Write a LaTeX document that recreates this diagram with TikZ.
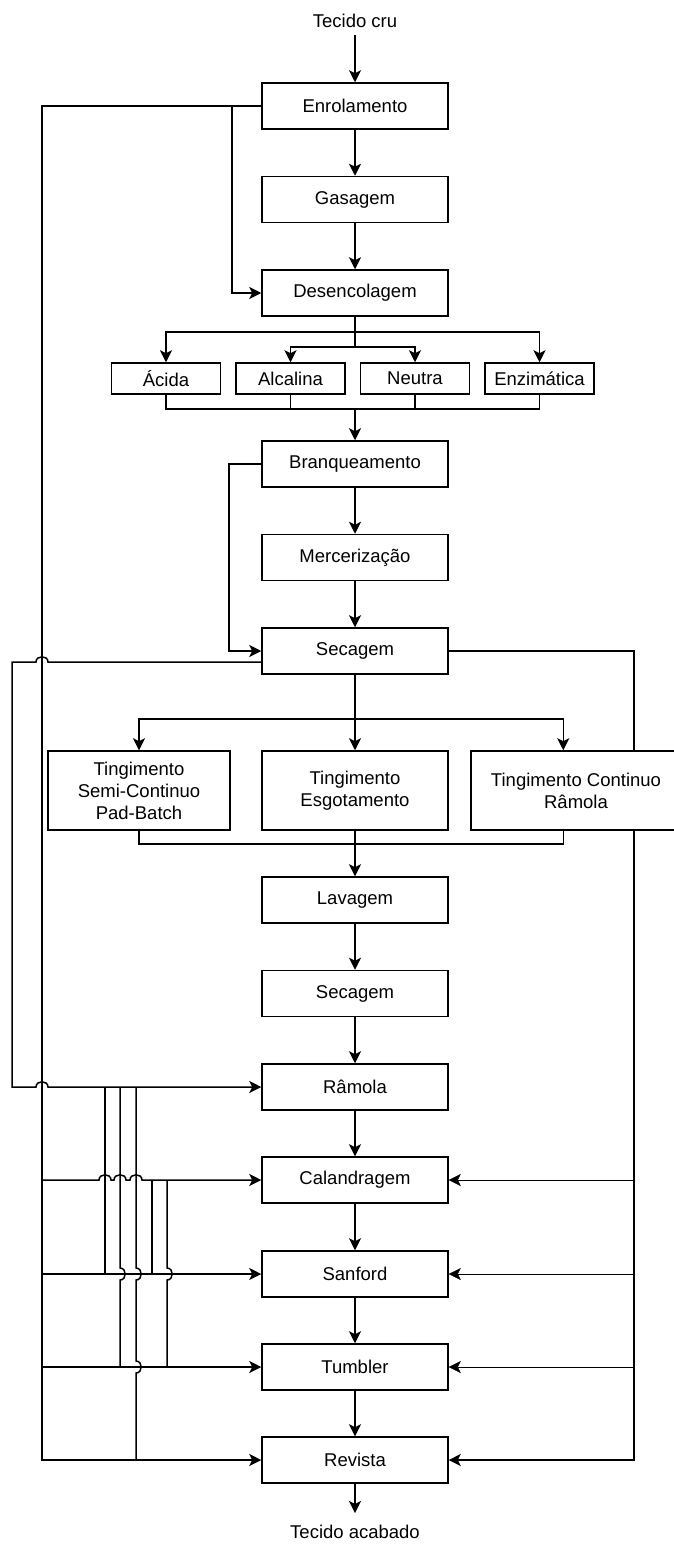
\documentclass[tikz,border=0pt]{standalone}
\usepackage{fontspec}
\setmainfont{Liberation Sans}
\usetikzlibrary{arrows.meta,calc}
\pgfdeclarelayer{bg}
\pgfsetlayers{bg,main}
\begin{document}
\begin{tikzpicture}[x=1pt,y=-1pt,
  line width=1.5pt,
  every node/.style={font=\fontsize{18.5}{22}\selectfont},
  box/.style={draw, fill=white, minimum width=186pt, minimum height=46pt, inner sep=0pt, line width=1.5pt},
  sbox/.style={box, minimum width=109pt, minimum height=31pt},
  tbox/.style={box, minimum height=79pt, align=center},
  lbl/.style={inner sep=0pt},
  arr/.style={-{Stealth[length=12pt,width=12pt,inset=3pt]}},
  hopr/.style 2 args={insert path={-- ({#1-6},#2) .. controls ({#1-6},{#2-7}) and ({#1+6},{#2-7}) .. ({#1+6},#2)}},
  hopl/.style 2 args={insert path={-- ({#1+6},#2) .. controls ({#1+6},{#2-7}) and ({#1-6},{#2-7}) .. ({#1-6},#2)}},
  hopd/.style 2 args={insert path={-- (#1,{#2-6}) .. controls ({#1+7},{#2-6}) and ({#1+7},{#2+6}) .. (#1,{#2+6})}},
]
\useasboundingbox (0,0) rectangle (673,1544);

% nodes
\node[lbl] (cru) at (355,21) {Tecido cru};
\node[box] (enr) at (355,106) {Enrolamento};
\node[box] (gas) at (355,199.5) {Gasagem};
\node[box] (des) at (355,293) {Desencolagem};
\node[sbox] (aci) at (166,378.5) {Ácida};
\node[sbox] (alc) at (290.5,378.5) {Alcalina};
\node[sbox] (neu) at (415,378.5) {Neutra};
\node[sbox] (enz) at (539.5,378.5) {Enzimática};
\node[box] (bra) at (355,464) {Branqueamento};
\node[box] (mer) at (355,557.5) {Mercerização};
\node[box] (sec1) at (355,651) {Secagem};
\node[tbox, minimum width=182pt] (t1) at (139,790.5) {Tingimento\\Semi-Continuo\\Pad-Batch};
\node[tbox] (t2) at (355,790.5) {Tingimento\\Esgotamento};
\node[tbox, minimum width=210pt] (t3) at (576,790.5) {Tingimento Continuo\\Râmola};
\node[box] (lav) at (355,900) {Lavagem};
\node[box] (sec2) at (355,993.5) {Secagem};
\node[box] (ram) at (355,1087) {Râmola};
\node[box] (cal) at (355,1180) {Calandragem};
\node[box] (san) at (355,1274) {Sanford};
\node[box] (tum) at (355,1367) {Tumbler};
\node[box] (rev) at (355,1460) {Revista};
\node[lbl] (aca) at (355,1532) {Tecido acabado};

% main flow
\draw[arr, shorten <=6pt] (cru.south) -- (enr.north);
\draw[arr] (enr) -- (gas);
\draw[arr] (gas) -- (des);
\coordinate (o1) at (355,332);
\coordinate (i1) at (355,347);
\draw (des.south) -- (i1);
\draw[arr] (o1) -| (aci.north);
\draw[arr] (o1) -| (enz.north);
\draw[arr] (i1) -| (alc.north);
\draw[arr] (i1) -| (neu.north);
\coordinate (m1) at (355,409);
\draw (aci.south) |- (m1);
\draw (enz.south) |- (m1);
\draw (alc.south) |- (m1);
\draw (neu.south) |- (m1);
\draw[arr] (m1) -- (bra.north);
\draw[arr] (bra) -- (mer);
\draw[arr] (mer) -- (sec1);
\draw[arr] (bra.west) -- (229,464) |- (sec1.west);

\coordinate (b2) at (355,719);
\draw (sec1.south) -- (b2);
\draw[arr] (b2) -| (t1.north);
\draw[arr] (b2) -- (t2.north);
\coordinate (t3in) at ($(t3.north west)+(93,0)$);
\coordinate (t3out) at ($(t3.south west)+(93,0)$);
\draw[arr] (b2) -| (t3in);
\coordinate (m2) at (355,844);
\draw (t1.south) |- (m2);
\draw (t3out) |- (m2);
\draw[arr] (t2.south) -- (lav.north);
\draw[arr] (lav) -- (sec2);
\draw[arr] (sec2) -- (ram);
\draw[arr] (ram) -- (cal);
\draw[arr] (cal) -- (san);
\draw[arr] (san) -- (tum);
\draw[arr] (tum) -- (rev);
\coordinate (acaIn) at (355,1513);
\draw[arr] (rev.south) -- (acaIn);

% left bus from Enrolamento
\draw[arr] (enr.west) -| (42,1460) -- (rev.west);
\draw[arr] (232,106) |- (des.west);
\draw[arr] (42,1274) -- (san.west);
\draw[arr] (42,1367) -- (tum.west);
\draw[arr] (42,1180) [hopr={105}{1180}] [hopr={120}{1180}] [hopr={136}{1180}] -- (cal.west);

% loop from Secagem
\coordinate (s1o) at ($(sec1.west)+(0,11)$);
\draw[arr] (s1o) [hopl={42}{662}] -- (12,662) -- (12,1087) [hopr={42}{1087}] -- (ram.west);
\draw (105,1087) -- (105,1274);
\draw (120,1087) [hopd={120}{1274}] -- (120,1367);
\draw (136,1087) [hopd={136}{1274}] [hopd={136}{1367}] -- (136,1460);
\draw (152,1180) -- (152,1274);
\draw (167,1180) [hopd={167}{1274}] -- (167,1367);

% right bus
\begin{pgfonlayer}{bg}
\draw[arr, line width=1.5pt] (sec1.east) -| (634,1460) -- (rev.east);
\end{pgfonlayer}
\draw[arr] (634,1180) -- (cal.east);
\draw[arr] (634,1274) -- (san.east);
\draw[arr] (634,1367) -- (tum.east);
\end{tikzpicture}
\end{document}
